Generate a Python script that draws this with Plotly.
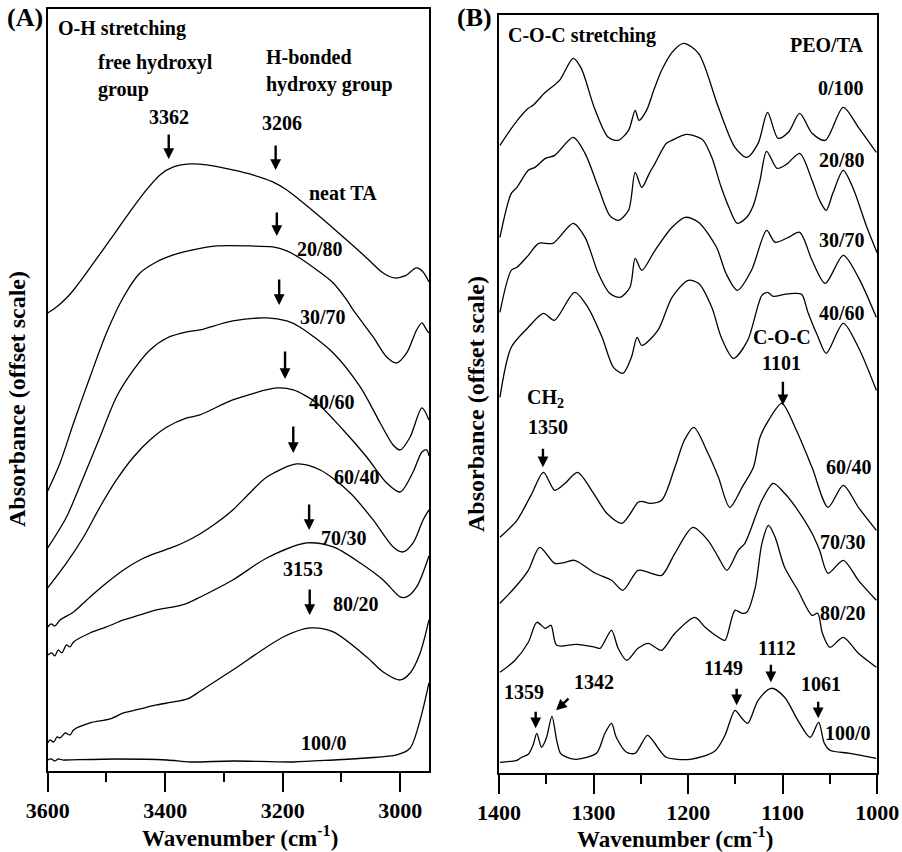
import plotly.graph_objects as go

# ---------------- Panel A : O-H stretching region ----------------
A_neat_wn = [3600, 3585, 3568, 3556, 3539, 3522, 3494, 3454, 3432, 3409, 3386, 3358, 3329, 3285, 3251, 3217, 3193, 3171, 3136, 3097, 3057, 3029, 3009, 2992, 2972, 2961, 2951]
A_neat_ab = [4.58, 4.64, 4.73, 4.81, 4.94, 5.08, 5.31, 5.64, 5.81, 5.96, 6.04, 6.07, 6.06, 6.01, 5.96, 5.89, 5.81, 5.71, 5.54, 5.34, 5.13, 4.98, 4.93, 4.95, 5.03, 4.99, 4.89]

A_2080_wn = [3600, 3579, 3556, 3528, 3500, 3471, 3443, 3415, 3386, 3353, 3312, 3256, 3217, 3193, 3171, 3142, 3114, 3091, 3080, 3046, 3023, 3006, 2989, 2972, 2963, 2955, 2951]
A_2080_ab = [2.80, 3.08, 3.48, 3.94, 4.38, 4.74, 4.98, 5.09, 5.16, 5.21, 5.25, 5.25, 5.24, 5.20, 5.13, 5.01, 4.88, 4.71, 4.61, 4.34, 4.14, 4.08, 4.18, 4.41, 4.48, 4.41, 4.38]

A_3070_wn = [3600, 3568, 3539, 3511, 3483, 3454, 3426, 3397, 3363, 3341, 3285, 3227, 3193, 3171, 3114, 3068, 3034, 3012, 3000, 2983, 2963, 2951]
A_3070_ab = [2.23, 2.54, 2.94, 3.34, 3.74, 4.01, 4.21, 4.33, 4.39, 4.41, 4.50, 4.53, 4.50, 4.44, 4.18, 3.84, 3.48, 3.26, 3.21, 3.34, 3.63, 3.51]

A_4060_wn = [3600, 3568, 3539, 3511, 3483, 3454, 3426, 3397, 3363, 3341, 3285, 3210, 3182, 3142, 3097, 3057, 3023, 3000, 2978, 2963, 2955, 2951]
A_4060_ab = [1.83, 2.08, 2.34, 2.64, 2.91, 3.14, 3.31, 3.44, 3.53, 3.56, 3.71, 3.83, 3.81, 3.68, 3.41, 3.14, 2.88, 2.79, 2.99, 3.19, 3.21, 3.15]

A_6040_wn = [3600, 3594, 3588, 3579, 3556, 3528, 3500, 3471, 3443, 3415, 3386, 3363, 3341, 3313, 3285, 3256, 3227, 3176, 3136, 3085, 3046, 3012, 2995, 2978, 2961, 2951]
A_6040_ab = [1.44, 1.47, 1.45, 1.51, 1.59, 1.74, 1.88, 2.01, 2.11, 2.18, 2.24, 2.30, 2.37, 2.48, 2.61, 2.78, 2.94, 3.07, 3.01, 2.78, 2.51, 2.24, 2.19, 2.28, 2.51, 2.61]

A_7030_wn = [3600, 3593, 3588, 3582, 3576, 3568, 3562, 3556, 3528, 3500, 3471, 3443, 3415, 3386, 3365, 3340, 3285, 3227, 3159, 3114, 3068, 3029, 3000, 2989, 2972, 2951]
A_7030_ab = [1.16, 1.18, 1.15, 1.21, 1.18, 1.26, 1.24, 1.29, 1.38, 1.44, 1.51, 1.56, 1.61, 1.64, 1.67, 1.74, 1.91, 2.13, 2.28, 2.24, 2.08, 1.91, 1.74, 1.74, 1.84, 2.15]

A_8020_wn = [3600, 3596, 3590, 3584, 3579, 3570, 3562, 3556, 3528, 3494, 3471, 3443, 3415, 3386, 3362, 3340, 3285, 3199, 3153, 3114, 3057, 3029, 3000, 2983, 2966, 2951]
A_8020_ab = [0.28, 0.31, 0.29, 0.34, 0.33, 0.38, 0.36, 0.41, 0.48, 0.52, 0.58, 0.62, 0.66, 0.69, 0.72, 0.80, 1.01, 1.34, 1.43, 1.39, 1.14, 0.99, 0.91, 0.98, 1.18, 1.51]

A_1000_wn = [3600, 3594, 3588, 3582, 3575, 3568, 3483, 3397, 3358, 3285, 3182, 3114, 3057, 3006, 2983, 2966, 2951]
A_1000_ab = [0.11, 0.12, 0.10, 0.12, 0.11, 0.11, 0.12, 0.11, 0.09, 0.10, 0.09, 0.11, 0.13, 0.16, 0.23, 0.51, 0.88]

A_ticks = [3600, 3400, 3200, 3000]
A_minor = [3500, 3300, 3100]

# ---------------- Panel B : C-O-C stretching region ----------------
B_0100_wn = [1399, 1383, 1369, 1364, 1351, 1336, 1321.5, 1313, 1299, 1284.5, 1274, 1263, 1256, 1252, 1244, 1236, 1228, 1217, 1205, 1189, 1168, 1150.5, 1138, 1126, 1116, 1105, 1094, 1082, 1069, 1055, 1036, 1020, 1001]
B_0100_ab = [6.28, 6.50, 6.65, 6.68, 6.81, 6.93, 7.15, 7.05, 6.65, 6.36, 6.33, 6.43, 6.63, 6.53, 6.63, 6.84, 7.03, 7.21, 7.30, 7.20, 6.66, 6.26, 6.16, 6.30, 6.61, 6.35, 6.41, 6.60, 6.40, 6.33, 6.66, 6.46, 6.21]

B_2080_wn = [1399, 1387, 1381, 1369, 1362, 1357, 1351, 1341, 1321.5, 1309, 1295, 1283, 1274, 1263, 1256, 1249, 1241, 1235, 1223, 1217, 1202, 1189, 1184, 1175, 1165, 1156, 1148, 1138, 1131, 1124, 1117, 1106, 1096, 1082, 1069, 1061, 1054, 1047, 1036, 1026, 1011, 1000]
B_2080_ab = [5.36, 5.80, 5.86, 6.03, 6.06, 6.10, 6.15, 6.18, 6.36, 6.20, 5.86, 5.58, 5.53, 5.63, 6.01, 5.86, 6.00, 6.10, 6.30, 6.33, 6.39, 6.36, 6.33, 6.16, 5.86, 5.64, 5.50, 5.56, 5.68, 5.93, 6.22, 6.05, 6.09, 6.20, 5.93, 5.73, 5.63, 5.80, 6.03, 5.86, 5.46, 5.20]

B_3070_wn = [1399, 1387, 1381, 1369, 1358, 1343, 1321.5, 1309, 1295, 1283, 1272, 1261.5, 1256, 1249, 1235, 1217, 1203, 1189, 1170, 1160, 1148, 1133, 1117, 1108, 1094, 1082, 1069, 1055, 1036, 1020, 1001]
B_3070_ab = [4.61, 5.03, 5.06, 5.18, 5.30, 5.30, 5.50, 5.36, 5.00, 4.80, 4.76, 4.86, 5.15, 5.03, 5.23, 5.46, 5.56, 5.51, 5.26, 5.00, 4.83, 5.03, 5.43, 5.31, 5.36, 5.41, 5.13, 4.90, 5.18, 4.96, 4.56]

B_4060_wn = [1399, 1387, 1369, 1353, 1341.5, 1320, 1306, 1291, 1279, 1269, 1260, 1254, 1249, 1232, 1217, 1200, 1189, 1175, 1165, 1152, 1137, 1122, 1116, 1110, 1098, 1088, 1080, 1073, 1062.5, 1054, 1036, 1020, 1001]
B_4060_ab = [3.76, 4.26, 4.46, 4.60, 4.53, 4.81, 4.66, 4.36, 4.06, 4.00, 4.16, 4.36, 4.28, 4.43, 4.76, 4.93, 4.90, 4.66, 4.36, 4.15, 4.33, 4.78, 4.81, 4.77, 4.79, 4.80, 4.79, 4.60, 4.36, 4.20, 4.50, 4.26, 3.83]

B_6040_wn = [1399, 1381, 1369, 1365, 1353, 1341, 1330, 1317, 1300, 1286, 1270, 1253, 1249, 1241, 1228, 1214, 1204, 1194, 1179, 1168, 1156, 1143, 1131, 1124, 1115, 1101, 1087, 1069, 1052, 1036, 1020, 1001]
B_6040_ab = [2.36, 2.53, 2.73, 2.80, 3.01, 2.83, 2.90, 3.01, 2.80, 2.60, 2.50, 2.71, 2.72, 2.70, 2.73, 3.06, 3.33, 3.46, 3.20, 2.96, 2.66, 2.86, 3.06, 3.36, 3.53, 3.70, 3.46, 3.06, 2.66, 2.88, 2.66, 2.43]

B_7030_wn = [1399, 1383, 1369, 1357, 1341, 1330, 1320, 1298, 1281, 1269, 1253, 1242, 1228, 1214, 1195, 1179, 1168, 1159, 1147, 1140, 1122, 1110, 1098, 1084, 1069, 1061, 1052, 1036, 1020, 1001]
B_7030_ab = [1.70, 1.86, 2.03, 2.26, 2.10, 2.11, 2.13, 2.00, 1.93, 1.83, 2.03, 2.01, 1.98, 2.20, 2.46, 2.33, 2.16, 2.03, 2.23, 2.30, 2.73, 2.90, 2.80, 2.63, 2.40, 2.23, 2.00, 2.13, 1.93, 1.73]

B_8020_wn = [1399, 1383, 1369, 1360, 1351, 1345, 1339, 1318, 1298, 1293, 1281, 1274, 1265, 1253, 1242, 1235, 1228, 1214, 1193, 1182, 1168, 1161, 1150.5, 1143, 1138, 1129, 1122, 1115, 1108, 1098, 1084, 1069, 1063, 1058, 1050, 1036, 1020, 1001]
B_8020_ab = [1.01, 1.13, 1.31, 1.51, 1.45, 1.48, 1.28, 1.29, 1.26, 1.25, 1.43, 1.25, 1.13, 1.25, 1.30, 1.26, 1.23, 1.40, 1.56, 1.46, 1.36, 1.33, 1.63, 1.60, 1.61, 1.86, 2.30, 2.48, 2.36, 2.06, 1.83, 1.58, 1.60, 1.40, 1.26, 1.36, 1.20, 1.06]

B_1000_wn = [1399, 1381, 1376, 1369, 1364, 1360, 1355, 1350, 1344, 1339, 1335, 1328, 1318, 1297, 1288, 1281, 1276, 1265, 1256, 1243, 1236, 1230, 1223, 1198, 1172, 1161, 1150.5, 1144, 1137, 1126, 1112, 1098, 1084, 1071, 1062, 1056, 1050, 1029, 1001]
B_1000_ab = [0.11, 0.13, 0.16, 0.19, 0.28, 0.40, 0.26, 0.35, 0.57, 0.33, 0.20, 0.16, 0.14, 0.20, 0.40, 0.50, 0.36, 0.21, 0.20, 0.38, 0.31, 0.23, 0.16, 0.14, 0.22, 0.38, 0.63, 0.56, 0.50, 0.73, 0.85, 0.76, 0.53, 0.36, 0.51, 0.30, 0.23, 0.20, 0.15]

B_ticks = [1400, 1300, 1200, 1100, 1000]
B_minor = [1350, 1250, 1150, 1050]

FONT = "Liberation Serif, Times New Roman, serif"

A_series = [(A_neat_wn, A_neat_ab), (A_2080_wn, A_2080_ab), (A_3070_wn, A_3070_ab),
            (A_4060_wn, A_4060_ab), (A_6040_wn, A_6040_ab), (A_7030_wn, A_7030_ab),
            (A_8020_wn, A_8020_ab), (A_1000_wn, A_1000_ab)]
B_series = [(B_0100_wn, B_0100_ab), (B_2080_wn, B_2080_ab), (B_3070_wn, B_3070_ab),
            (B_4060_wn, B_4060_ab), (B_6040_wn, B_6040_ab), (B_7030_wn, B_7030_ab),
            (B_8020_wn, B_8020_ab), (B_1000_wn, B_1000_ab)]

fig = go.Figure()
for wn, ab in A_series:
    fig.add_trace(go.Scatter(x=wn, y=ab, mode="lines", xaxis="x", yaxis="y",
                             line=dict(color="black", width=1.3, shape="spline", smoothing=0.8),
                             showlegend=False, hoverinfo="skip"))
for wn, ab in B_series:
    fig.add_trace(go.Scatter(x=wn, y=ab, mode="lines", xaxis="x2", yaxis="y2",
                             line=dict(color="black", width=1.3, shape="spline", smoothing=0.8),
                             showlegend=False, hoverinfo="skip"))

tickfont = dict(family=FONT, size=22, color="black", weight="bold")

def xaxis_cfg(domain, rng, ticks, minor, anchor):
    return dict(domain=domain, range=rng, anchor=anchor, tickmode="array", tickvals=ticks,
                ticktext=[str(t) for t in ticks], ticks="outside", ticklen=19, tickwidth=1.5,
                tickcolor="black", minor=dict(tickmode="array", tickvals=minor, ticks="outside",
                                              ticklen=9, tickwidth=1.5, tickcolor="black"),
                showline=True, linewidth=1.5, linecolor="black", mirror=True, automargin=False,
                showgrid=False, zeroline=False, tickfont=tickfont)

def yaxis_cfg(domain, rng, anchor):
    return dict(domain=domain, range=rng, anchor=anchor, showline=True, linewidth=1.5,
                linecolor="black", mirror=True, showticklabels=False, ticks="", automargin=False,
                showgrid=False, zeroline=False)

fig.update_layout(
    width=902, height=852, margin=dict(l=0, r=0, t=0, b=0, autoexpand=False),
    paper_bgcolor="white", plot_bgcolor="white",
    xaxis=xaxis_cfg([0.0529, 0.4759], [3600, 2950.5], A_ticks, A_minor, "y"),
    yaxis=yaxis_cfg([0.0951, 0.9889], [0, 7.615], "x"),
    xaxis2=xaxis_cfg([0.5532, 0.9726], [1400, 1000], B_ticks, B_minor, "y2"),
    yaxis2=yaxis_cfg([0.0924, 0.9827], [0, 7.586], "x2"),
)

ann = []
def txt(text, x, y, panel, xanchor="center", size=20):
    xr, yr = ("x", "y") if panel == "A" else ("x2", "y2")
    ann.append(dict(text=f"<b>{text}</b>", x=x, y=y, xref=xr, yref=yr, showarrow=False,
                    xanchor=xanchor, yanchor="middle", borderpad=0,
                    font=dict(family=FONT, size=size, color="black")))

def arrow(x, y, panel, length, ax=0):
    xr, yr = ("x", "y") if panel == "A" else ("x2", "y2")
    ann.append(dict(text="", x=x, y=y, xref=xr, yref=yr, showarrow=True, ax=ax, ay=-length,
                    arrowhead=2, arrowsize=0.9, arrowwidth=2.4, arrowcolor="black", standoff=0))

# Panel A texts
txt("O-H stretching", 3584, 7.42, "A", "left")
txt("free hydroxyl", 3516, 7.08, "A", "left")
txt("group", 3516, 6.81, "A", "left")
txt("H-bonded", 3230, 7.14, "A", "left")
txt("hydroxy group", 3230, 6.86, "A", "left")
txt("3362", 3394, 6.54, "A")
arrow(3394, 6.12, "A", 26)
txt("3206", 3201, 6.48, "A")
arrow(3212, 6.01, "A", 26)
txt("neat TA", 3097, 5.78, "A")
arrow(3210, 5.35, "A", 25)
txt("20/80", 3136, 5.22, "A")
arrow(3206, 4.66, "A", 27)
txt("30/70", 3131, 4.54, "A")
arrow(3196, 3.92, "A", 29)
txt("40/60", 3116, 3.69, "A")
arrow(3182, 3.18, "A", 28)
txt("60/40", 3074, 2.94, "A")
arrow(3155, 2.41, "A", 27)
txt("70/30", 3095, 2.33, "A")
txt("3153", 3166, 2.02, "A")
arrow(3154, 1.56, "A", 27)
txt("80/20", 3075, 1.67, "A")
txt("100/0", 3129, 0.28, "A")

# Panel B texts
txt("C-O-C stretching", 1391.5, 7.38, "B", "left")
txt("PEO/TA", 1013, 7.28, "B", "right")
txt("0/100", 1013, 6.85, "B", "right")
txt("20/80", 1012, 6.13, "B", "right")
txt("30/70", 1012, 5.33, "B", "right")
txt("40/60", 1012, 4.60, "B", "right")
txt("C-O-C", 1100.3, 4.36, "B")
txt("1101", 1100.8, 4.10, "B")
arrow(1099.8, 3.68, "B", 25)
txt("CH<sub>2</sub>", 1350.3, 3.75, "B")
txt("1350", 1348.7, 3.46, "B")
arrow(1353.5, 3.06, "B", 20)
txt("60/40", 1004.7, 3.06, "B", "right")
txt("70/30", 1011, 2.31, "B", "right")
txt("80/20", 1011, 1.60, "B", "right")
txt("1359", 1373.6, 0.81, "B")
arrow(1361.2, 0.45, "B", 18)
txt("1342", 1299.6, 0.91, "B")
arrow(1339.7, 0.63, "B", 13, ax=14)
txt("1149", 1162.2, 1.05, "B")
arrow(1148.7, 0.68, "B", 18)
txt("1112", 1106.1, 1.25, "B")
arrow(1112.5, 0.91, "B", 19)
txt("1061", 1059.6, 0.89, "B")
arrow(1062.5, 0.55, "B", 18)
txt("100/0", 1005.7, 0.40, "B", "right")

def paper(text, x, y, size, angle=0):
    ann.append(dict(text=f"<b>{text}</b>", x=x, y=y, xref="paper", yref="paper", showarrow=False,
                    xanchor="center", yanchor="middle", textangle=angle, borderpad=0,
                    font=dict(family=FONT, size=size, color="black")))

paper("(A)", 0.0277, 0.9789, 26)
paper("(B)", 0.5266, 0.9789, 26)
paper("Absorbance (offset scale)", 0.0194, 0.5323, 24, -90)
paper("Absorbance (offset scale)", 0.5277, 0.5258, 24, -90)
paper("Wavenumber (cm<sup>-1</sup>)", 0.2661, 0.0180, 23)
paper("Wavenumber (cm<sup>-1</sup>)", 0.7483, 0.0176, 23)

fig.update_layout(annotations=ann)
fig.write_html("out.html")
